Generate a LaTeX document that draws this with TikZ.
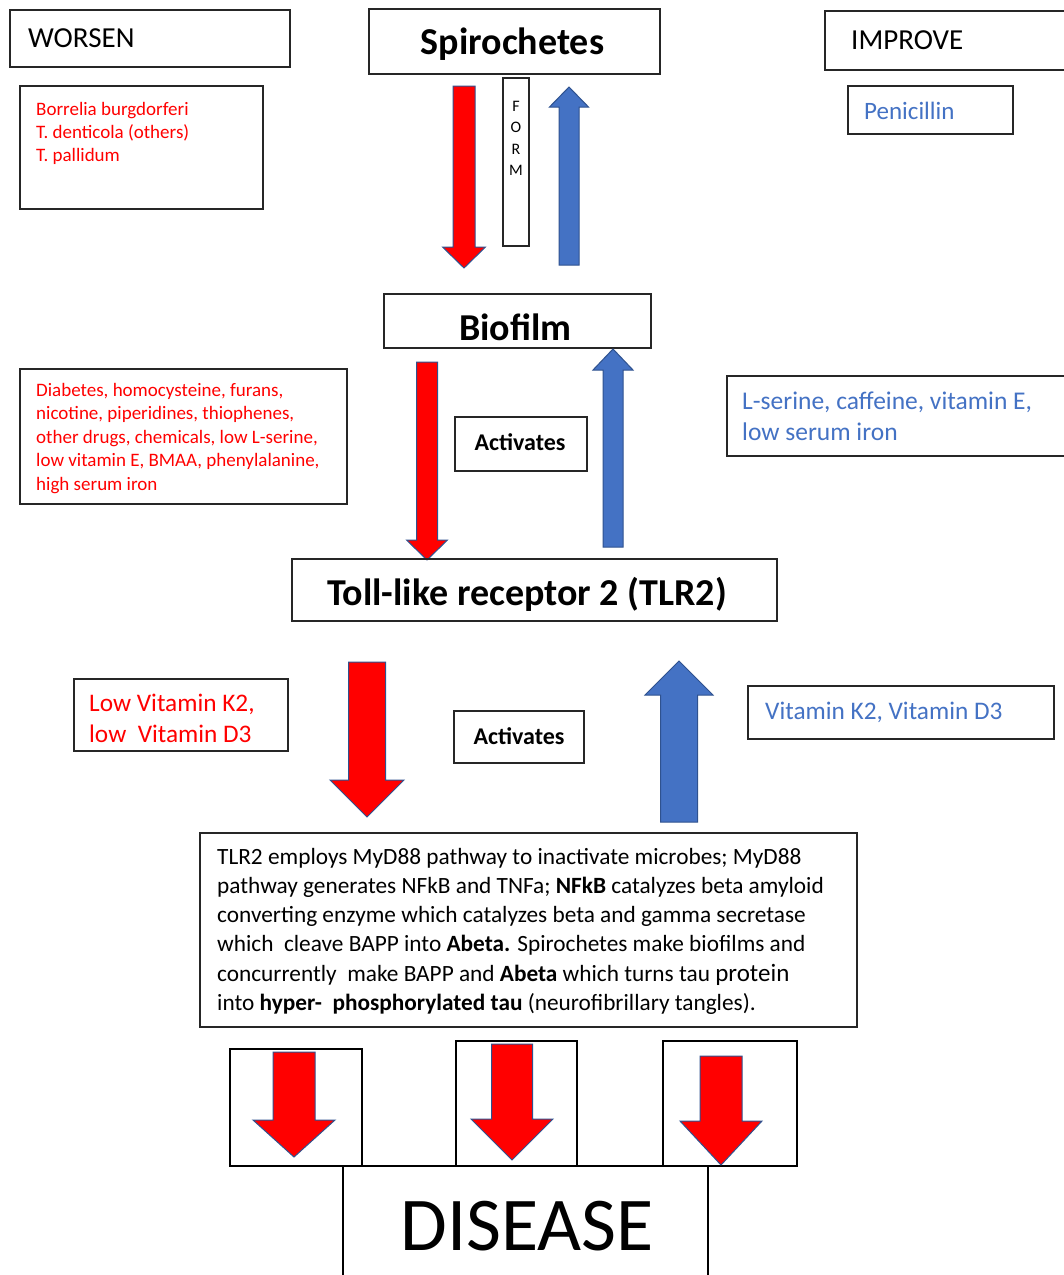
\documentclass[tikz,border=0pt]{standalone}
\usepackage{fontspec}
\setmainfont{Carlito}
\usetikzlibrary{fit}
\definecolor{myred}{HTML}{FF0000}
\definecolor{myblue}{HTML}{4472C4}
\definecolor{edgeblue}{HTML}{2F528F}
\newcommand\fsz[2]{\fontsize{#1}{#2}\selectfont}
% #1 x centre, #2 start y, #3 head base y, #4 tip y, #5 shaft half width, #6 head half width, #7 fill
\newcommand\blockarrow[7]{%
  \filldraw[draw=edgeblue, line width=1pt, fill=#7, line join=miter]
    ({#1-#5},#2) -- ({#1+#5},#2) -- ({#1+#5},#3) -- ({#1+#6},#3) -- (#1,#4)
    -- ({#1-#6},#3) -- ({#1-#5},#3) -- cycle;}
\begin{document}
\begin{tikzpicture}[x=1pt,y=-1pt,
  box/.style={draw=black!85, line width=1.2pt, inner sep=0pt},
  thickbox/.style={draw=black, line width=1.6pt, inner sep=0pt},
  txt/.style={inner sep=0pt, align=left},
  redtxt/.style={txt, text=myred},
  bluetxt/.style={txt, text=myblue}]
\useasboundingbox (0,0) rectangle (1064,1275);
\fill[white] (0,0) rectangle (1064,1275);

% header boxes
\node[box, fit={(10,10) (290,67)}] (worsenbox) {};
\node[txt, anchor=base west, font=\fsz{29}{35}] (worsen) at (28,47) {WORSEN};
\node[box, fit={(825,11) (1075,70)}] (improvebox) {};
\node[txt, anchor=base west, font=\fsz{29}{35}] (improve) at (851,49) {IMPROVE};

\node[box, fit={(20,86) (263,209)}] (listbox) {};
\node[redtxt, anchor=north west, font=\fsz{19}{23}] (list) at (36,102)
  {Borrelia burgdorferi\\T. denticola (others)\\T. pallidum};
\node[box, fit={(848,86) (1013,134)}] (penbox) {};
\node[bluetxt, anchor=base west, font=\fsz{25}{31}] (pen) at (864,119) {Penicillin};

% Spirochetes
\node[box, fit={(369,9) (660,74)}] (spirobox) {};
\node[txt, anchor=base, font=\fsz{38}{45}\bfseries] (spiro) at (512.5,54) {Spirochetes};
\node[box, fit={(503,78) (529,246)}] (formbox) {};
\node[txt, align=center, anchor=north, font=\fsz{16}{21.5}] (form) at (516,101) {F\\O\\R\\M};

\blockarrow{464}{86}{247}{268}{11}{21.5}{myred}
\blockarrow{569}{265}{107}{87}{10}{19.5}{myblue}

% Biofilm
\node[box, fit={(384,294) (651,348)}] (biobox) {};
\node[txt, anchor=base, font=\fsz{38}{45}\bfseries] (bio) at (515.5,340) {Biofilm};

\node[box, fit={(20,369) (347,504)}] (diabbox) {};
\node[redtxt, anchor=north west, font=\fsz{19}{23.5}] (diab) at (36,383)
  {Diabetes, homocysteine, furans,\\nicotine, piperidines, thiophenes,\\other drugs, chemicals, low L-serine,\\low vitamin E, BMAA, phenylalanine,\\high serum iron};

\node[box, fit={(455,417) (587,471)}] (act1box) {};
\node[txt, anchor=base, font=\fsz{24}{29}\bfseries] (act1) at (520,450) {Activates};

\node[box, fit={(727,376) (1075,456)}] (serbox) {};
\node[bluetxt, anchor=north west, font=\fsz{25.5}{31}] (ser) at (742,392)
  {L-serine, caffeine, vitamin E,\\low serum iron};

\blockarrow{427}{362}{540}{560}{10.5}{20.5}{myred}
\blockarrow{613}{547}{370}{349}{10}{20}{myblue}

% TLR2
\node[box, fit={(292,559) (777,621)}] (tlrbox) {};
\node[txt, anchor=base, font=\fsz{38}{45}\bfseries] (tlr) at (527,605) {Toll-like receptor 2 (TLR2)};

\node[box, fit={(74,679) (288,751)}] (lowbox) {};
\node[redtxt, anchor=north west, font=\fsz{25.3}{31}] (low) at (89,694)
  {Low Vitamin K2,\\low\ \ Vitamin D3};
\node[box, fit={(454,711) (584,763)}] (act2box) {};
\node[txt, anchor=base, font=\fsz{24}{29}\bfseries] (act2) at (519,744) {Activates};
\node[box, fit={(748,686) (1054,739)}] (vitbox) {};
\node[bluetxt, anchor=base west, font=\fsz{25.3}{31}] (vit) at (765,719) {Vitamin K2, Vitamin D3};

\blockarrow{367}{662}{780}{817}{18.5}{37}{myred}
\blockarrow{679}{822}{695}{661}{18.5}{34}{myblue}

% mechanism text
\node[box, fit={(200,833) (857,1027)}] (mechbox) {};
\node[txt, anchor=north west, font=\fsz{23.3}{29.2}] (mech) at (217,848)
  {TLR2 employs MyD88 pathway to inactivate microbes; MyD88\\
   pathway generates NFkB and TNFa; \textbf{NFkB} catalyzes beta amyloid\\
   converting enzyme which catalyzes beta and gamma secretase\\
   which\ \ cleave BAPP into \textbf{Abeta.} Spirochetes make biofilms and\\
   concurrently\ \ make BAPP and \textbf{Abeta} which turns tau {\fsz{25}{29.2}protein}\\
   into \textbf{hyper-\ \ phosphorylated tau} (neurofibrillary tangles).};

% disease part
\node[thickbox, fit={(230,1049) (362,1166)}] (d1box) {};
\node[thickbox, fit={(456,1041) (577,1166)}] (d2box) {};
\node[thickbox, fit={(663,1041) (797,1166)}] (d3box) {};
\blockarrow{294}{1052}{1120}{1157}{21}{41}{myred}
\blockarrow{512}{1044}{1119}{1160}{20.5}{41}{myred}
\blockarrow{721}{1056}{1121}{1165}{21}{41}{myred}
\node[thickbox, fit={(343,1166) (708,1290)}] (disbox) {};
\node[txt, anchor=base, font=\fsz{76}{90}] (dis) at (527,1250) {DISEASE};
\end{tikzpicture}
\end{document}
